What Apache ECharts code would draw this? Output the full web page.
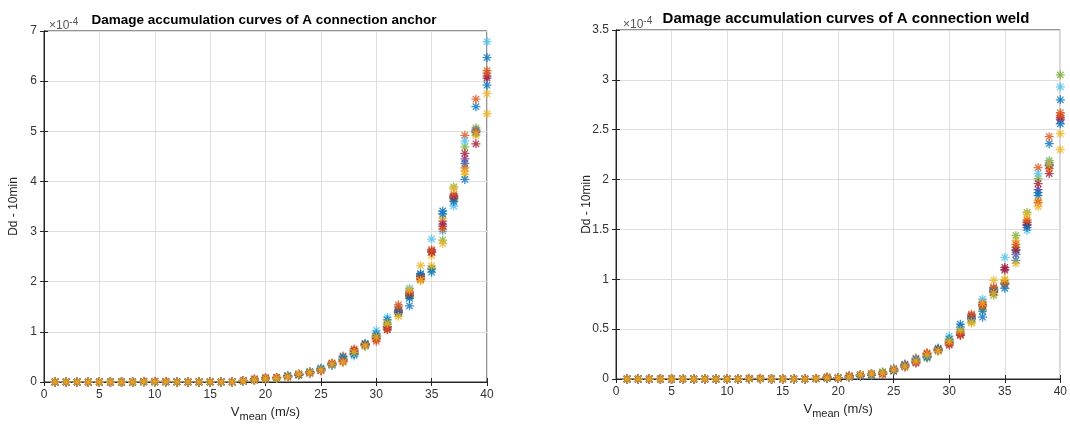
<!DOCTYPE html>
<html>
<head>
<meta charset="utf-8">
<script src="https://cdn.jsdelivr.net/npm/echarts@6/dist/echarts.min.js"></script>
<style>
html,body{margin:0;padding:0;background:#fff;}
#chart{width:1070px;height:428px;}
</style>
</head>
<body>
<div id="chart"></div>
<script>
// Wind speed categories (m/s)
const speeds = [1,2,3,4,5,6,7,8,9,10,11,12,13,14,15,16,17,18,19,20,21,22,23,24,25,26,27,28,29,30,31,32,33,34,35,36,37,38,39,40];

// Damage per 10 min, anchor (x 1e-4)
const anchorS1  = [0,0,0,0,0,0,0,0,0.005,0.005,0.005,0.002,0.002,0.002,0.002,0.002,0.002,0.02,0.04,0.06,0.08,0.11,0.15,0.19,0.27,0.35,0.45,0.55,0.74,0.92,1.11,1.44,1.52,2.14,2.19,3.41,3.68,4.36,5.49,6.47];
const anchorS2  = [0,0,0,0,0,0,0,0,0.01,0.015,0.01,0.002,0.002,0.002,0.002,0.002,0.002,0.03,0.06,0.08,0.09,0.12,0.14,0.18,0.24,0.37,0.52,0.66,0.76,0.85,1.08,1.54,1.74,2.04,2.64,3.21,3.71,4.92,5.64,6.21];
const anchorS3  = [0,0,0,0,0,0,0,0,0.005,0.005,0.005,0.002,0.002,0.002,0.002,0.002,0.002,0.02,0.04,0.06,0.07,0.11,0.16,0.20,0.25,0.36,0.48,0.58,0.72,0.94,1.19,1.35,1.81,2.32,2.52,3.27,3.63,4.14,4.92,5.75];
const anchorS4  = [0,0,0,0,0,0,0,0,0.005,0.005,0.005,0.002,0.002,0.002,0.002,0.002,0.002,0.02,0.05,0.07,0.08,0.10,0.15,0.19,0.23,0.34,0.42,0.60,0.73,0.90,1.10,1.40,1.77,2.10,2.60,3.15,3.70,4.45,5.00,6.10];
const anchorS5  = [0,0,0,0,0,0,0,0,0.005,0.005,0.005,0.002,0.002,0.002,0.002,0.002,0.002,0.02,0.04,0.06,0.08,0.12,0.14,0.21,0.26,0.35,0.44,0.57,0.75,0.88,1.15,1.37,1.70,2.08,2.27,2.83,3.89,4.69,5.07,7.02];
const anchorS6  = [0,0,0,0,0,0,0,0,0.005,0.005,0.005,0.002,0.002,0.002,0.002,0.002,0.002,0.02,0.05,0.07,0.07,0.13,0.15,0.18,0.28,0.33,0.47,0.52,0.71,1.03,1.29,1.46,1.87,2.12,2.85,3.01,3.51,4.81,5.04,6.79];
const anchorS7  = [0,0,0,0,0,0,0,0,0.005,0.005,0.005,0.002,0.002,0.002,0.002,0.002,0.002,0.02,0.04,0.06,0.08,0.11,0.16,0.19,0.24,0.36,0.40,0.62,0.74,0.87,1.04,1.42,1.72,2.11,2.59,3.11,3.66,4.56,4.75,6.06];
const anchorS8  = [0,0,0,0,0,0,0,0,0.005,0.005,0.005,0.002,0.002,0.002,0.002,0.002,0.002,0.02,0.05,0.07,0.07,0.12,0.14,0.20,0.26,0.34,0.50,0.56,0.77,0.96,1.24,1.39,1.67,2.16,2.25,3.35,3.60,4.04,4.98,5.92];
const anchorS9  = [0,0,0,0,0,0,0,0,0.015,0.01,0.015,0.002,0.002,0.002,0.002,0.002,0.002,0.03,0.06,0.09,0.09,0.11,0.15,0.17,0.22,0.38,0.43,0.64,0.73,0.81,1.06,1.50,1.79,2.06,2.62,3.05,3.74,4.27,5.02,6.16];
const anchorS10 = [0,0,0,0,0,0,0,0,0.005,0.005,0.005,0.002,0.002,0.002,0.002,0.002,0.002,0.02,0.04,0.06,0.07,0.10,0.16,0.19,0.24,0.35,0.39,0.59,0.72,0.90,1.17,1.31,1.84,2.02,2.32,2.76,3.86,4.20,4.95,5.35];

// Damage per 10 min, weld (x 1e-4)
const weldS1  = [0,0,0,0,0,0,0,0,0,0,0,0.003,0.003,0.001,0.001,0.001,0.001,0.004,0.01,0.01,0.02,0.04,0.05,0.06,0.09,0.13,0.18,0.23,0.29,0.38,0.55,0.61,0.62,0.90,0.91,1.30,1.57,1.84,2.36,2.80];
const weldS2  = [0,0,0,0,0,0,0,0,0,0,0,0.008,0.008,0.001,0.001,0.001,0.001,0.005,0.02,0.01,0.03,0.04,0.05,0.06,0.10,0.14,0.21,0.26,0.30,0.36,0.44,0.65,0.75,0.91,1.09,1.32,1.57,2.12,2.43,2.67];
const weldS3  = [0,0,0,0,0,0,0,0,0,0,0,0.003,0.003,0.001,0.001,0.001,0.001,0.004,0.01,0.01,0.02,0.04,0.05,0.07,0.09,0.13,0.19,0.24,0.28,0.39,0.48,0.56,0.72,0.99,0.99,1.39,1.60,1.79,2.13,2.46];
const weldS4  = [0,0,0,0,0,0,0,0,0,0,0,0.003,0.003,0.001,0.001,0.001,0.001,0.004,0.01,0.01,0.02,0.03,0.04,0.05,0.08,0.15,0.17,0.22,0.29,0.37,0.46,0.60,0.77,0.88,1.10,1.25,1.55,1.90,2.15,2.60];
const weldS5  = [0,0,0,0,0,0,0,0,0,0,0,0.003,0.003,0.001,0.001,0.001,0.001,0.004,0.01,0.01,0.02,0.04,0.05,0.07,0.10,0.14,0.18,0.21,0.30,0.36,0.47,0.58,0.70,0.84,0.97,1.44,1.67,2.01,2.19,3.05];
const weldS6  = [0,0,0,0,0,0,0,0,0,0,0,0.003,0.003,0.001,0.001,0.001,0.001,0.004,0.01,0.01,0.02,0.03,0.04,0.06,0.11,0.12,0.19,0.23,0.28,0.43,0.50,0.62,0.80,0.90,1.22,1.27,1.49,2.06,2.17,2.93];
const weldS7  = [0,0,0,0,0,0,0,0,0,0,0,0.003,0.003,0.001,0.001,0.001,0.001,0.004,0.01,0.01,0.03,0.04,0.05,0.05,0.09,0.13,0.16,0.25,0.29,0.34,0.44,0.63,0.74,0.87,1.12,1.29,1.54,1.96,2.06,2.62];
const weldS8  = [0,0,0,0,0,0,0,0,0,0,0,0.003,0.003,0.001,0.001,0.001,0.001,0.004,0.01,0.01,0.02,0.03,0.04,0.06,0.08,0.14,0.20,0.22,0.31,0.40,0.52,0.61,0.68,0.89,0.95,1.19,1.52,1.87,2.14,2.56];
const weldS9  = [0,0,0,0,0,0,0,0,0,0,0,0.006,0.006,0.001,0.001,0.001,0.001,0.005,0.02,0.01,0.03,0.04,0.05,0.05,0.10,0.12,0.17,0.26,0.29,0.35,0.45,0.64,0.73,0.92,0.96,1.35,1.59,1.77,2.11,2.64];
const weldS10 = [0,0,0,0,0,0,0,0,0,0,0,0.003,0.003,0.001,0.001,0.001,0.001,0.004,0.01,0.01,0.02,0.04,0.05,0.06,0.09,0.13,0.18,0.24,0.28,0.38,0.49,0.57,0.76,0.86,1.00,1.16,1.65,1.73,2.16,2.30];

const anchorSeries = [anchorS1,anchorS2,anchorS3,anchorS4,anchorS5,anchorS6,anchorS7,anchorS8,anchorS9,anchorS10];
const weldSeries = [weldS1,weldS2,weldS3,weldS4,weldS5,weldS6,weldS7,weldS8,weldS9,weldS10];

const colors = ['#0072BD','#D95319','#EDB120','#7E2F8E','#77AC30','#4DBEEE','#A2142F','#0072BD','#D95319','#EDB120'];

const titleAnchor = 'Damage accumulation curves of A connection anchor';
const titleWeld = 'Damage accumulation curves of A connection weld';
const yName = 'Dd - 10min';

const xTicks = {min: 0, max: 40, interval: 5};
const yTicksAnchor = {min: 0, max: 7, interval: 1};
const yTicksWeld = {min: 0, max: 3.5, interval: 0.5};

const AX = '#262626';
const asterisk = 'path://M5 0L5 10M0 5L10 5M1.46 1.46L8.54 8.54M1.46 8.54L8.54 1.46';

function mainX(grid) {
  return {
    type: 'value', gridIndex: grid, position: 'bottom',
    min: xTicks.min, max: xTicks.max, interval: xTicks.interval,
    name: 'V{sub|mean} (m/s)', nameLocation: 'middle', nameGap: 14,
    nameTextStyle: {color: AX, fontSize: 13, fontFamily: 'Liberation Sans',
      rich: {sub: {fontSize: 11, color: AX, fontFamily: 'Liberation Sans', verticalAlign: 'bottom', padding: [10,0,0,0]}}},
    axisLine: {show: true, lineStyle: {color: AX, width: 1}},
    axisTick: {show: true, inside: true, length: 4, lineStyle: {color: AX}},
    axisLabel: {color: '#333', fontSize: 12, fontFamily: 'Liberation Sans', margin: 7},
    splitLine: {show: true, lineStyle: {color: '#dedede', width: 1}}
  };
}
function topX(grid) {
  return {
    type: 'value', gridIndex: grid, position: 'top',
    min: xTicks.min, max: xTicks.max, interval: xTicks.interval,
    axisLine: {show: true, lineStyle: {color: AX, width: 1}},
    axisTick: {show: true, inside: true, length: 4, lineStyle: {color: AX}},
    axisLabel: {show: false}, splitLine: {show: false}
  };
}
function mainY(grid, t, gap) {
  return {
    type: 'value', gridIndex: grid, position: 'left',
    min: t.min, max: t.max, interval: t.interval,
    name: yName, nameLocation: 'middle', nameGap: gap, nameRotate: 90, nameMoveOverlap: false,
    nameTextStyle: {color: AX, fontSize: 12, fontFamily: 'Liberation Sans'},
    axisLine: {show: true, lineStyle: {color: AX, width: 1}},
    axisTick: {show: true, inside: true, length: 4, lineStyle: {color: AX}},
    axisLabel: {color: '#333', fontSize: 12, fontFamily: 'Liberation Sans', margin: 7},
    splitLine: {show: true, lineStyle: {color: '#dedede', width: 1}}
  };
}
function rightY(grid, t) {
  return {
    type: 'value', gridIndex: grid, position: 'right',
    min: t.min, max: t.max, interval: t.interval,
    axisLine: {show: true, lineStyle: {color: AX, width: 1}},
    axisTick: {show: true, inside: true, length: 4, lineStyle: {color: AX}},
    axisLabel: {show: false}, splitLine: {show: false}
  };
}

const series = [];
function addSeries(list, xIdx, yIdx) {
  list.forEach((vals, i) => {
    series.push({
      type: 'scatter', xAxisIndex: xIdx, yAxisIndex: yIdx,
      symbol: asterisk, symbolSize: 9, symbolKeepAspect: true,
      itemStyle: {color: 'none', borderColor: colors[i], borderWidth: 1.3},
      emphasis: {disabled: true},
      data: speeds.map((s, k) => [s, vals[k]])
    });
  });
}
addSeries(anchorSeries, 0, 0);
addSeries(weldSeries, 2, 2);

const supText = {fontSize: 12, color: '#555', fontWeight: 'normal', fontFamily: 'Liberation Sans',
  rich: {sup: {fontSize: 10, color: '#555', fontFamily: 'Liberation Sans', verticalAlign: 'top', padding: [0,0,7,0]}}};

const chart = echarts.init(document.getElementById('chart'), null, {renderer: 'canvas'});
chart.setOption({
  animation: false,
  backgroundColor: '#fff',
  title: [
    {text: titleAnchor, left: 259, top: 8, textAlign: 'center',
     textStyle: {fontSize: 13.5, fontWeight: 'bold', color: '#000', fontFamily: 'Liberation Sans'}},
    {text: titleWeld, left: 841, top: 6, textAlign: 'center',
     textStyle: {fontSize: 15, fontWeight: 'bold', color: '#000', fontFamily: 'Liberation Sans'}},
    {text: '×10{sup|-4}', left: 44, top: 12, textStyle: supText},
    {text: '×10{sup|-4}', left: 618, top: 11, textStyle: supText}
  ],
  grid: [
    {left: 44, top: 31, width: 443, height: 351, show: true, borderColor: AX, borderWidth: 1, backgroundColor: '#fff'},
    {left: 616, top: 30, width: 445, height: 349, show: true, borderColor: AX, borderWidth: 1, backgroundColor: '#fff'}
  ],
  xAxis: [mainX(0), topX(0), mainX(1), topX(1)],
  yAxis: [mainY(0, yTicksAnchor, 24), rightY(0, yTicksAnchor), mainY(1, yTicksWeld, 23), rightY(1, yTicksWeld)],
  series: series
});
</script>
</body>
</html>
